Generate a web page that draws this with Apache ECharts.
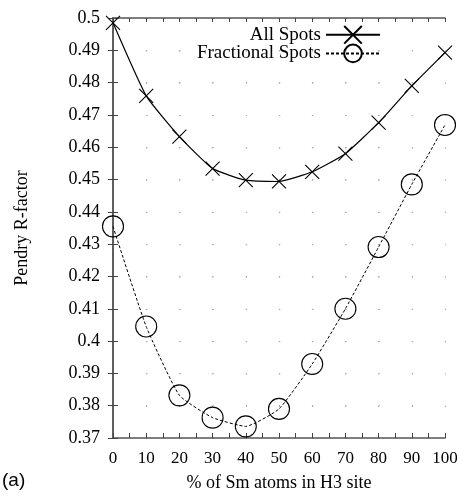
<!DOCTYPE html>
<html><head><meta charset="utf-8">
<script src="https://cdn.jsdelivr.net/npm/echarts@6/dist/echarts.min.js"></script>
<style>html,body{margin:0;padding:0;background:#fff}#c{width:461px;height:498px}</style>
</head><body><div id="c"></div>
<script>
const xValues = [0, 10, 20, 30, 40, 50, 60, 70, 80, 90, 100];
const allSpots = [0.4985, 0.4759, 0.4633, 0.4534, 0.4498, 0.4494, 0.4524, 0.4580, 0.4676, 0.4790, 0.4893];
const fractionalSpots = [0.4355, 0.4045, 0.3832, 0.3763, 0.3736, 0.3790, 0.3929, 0.4100, 0.4291, 0.4485, 0.4669];
const xAxisTitle = '% of Sm atoms in H3 site';
const yAxisTitle = 'Pendry R-factor';
const seriesNames = ['All Spots', 'Fractional Spots'];

const gridLeft = 113, gridRight = 16, gridTop = 18, gridBottom = 60;
const W = 461, H = 498;
const plotW = W - gridLeft - gridRight, plotH = H - gridTop - gridBottom;
const xStep = plotW / 10, yStep = plotH / 13;
const serif = 'Liberation Serif, Times New Roman, serif';
const frameColor = '#555';

const chart = echarts.init(document.getElementById('c'), null, {renderer: 'canvas'});
const baseX = {type: 'value', min: 0, max: 100, interval: 10};
const baseY = {type: 'value', min: 0.37, max: 0.5, interval: 0.01};
const tickStyle = {color: '#444', width: 1};
chart.setOption({
  animation: false,
  backgroundColor: '#fff',
  grid: {left: gridLeft, right: gridRight, top: gridTop, bottom: gridBottom, show: false},
  legend: {
    data: seriesNames, orient: 'vertical', right: 75, top: 20, align: 'right',
    itemWidth: 54, itemHeight: 22, itemGap: -1, selectedMode: false,
    textStyle: {fontFamily: serif, fontSize: 19, color: '#000'}
  },
  xAxis: [
    Object.assign({}, baseX, {
      position: 'bottom',
      name: xAxisTitle, nameLocation: 'middle', nameGap: 36,
      nameTextStyle: {fontFamily: serif, fontSize: 18, color: '#000'},
      axisLine: {show: true, lineStyle: {color: frameColor, width: 1.5}},
      axisTick: {show: true, inside: true, length: 5, lineStyle: tickStyle},
      minorTick: {show: true, splitNumber: 2, length: 5, lineStyle: tickStyle},
      axisLabel: {fontFamily: serif, fontSize: 17, color: '#000', margin: 12},
      splitLine: {show: true, lineStyle: {color: '#aaa', width: 1.2, type: [1.2, yStep - 1.2]}}
    }),
    Object.assign({}, baseX, {
      position: 'top',
      axisLine: {show: true, lineStyle: {color: frameColor, width: 1.5}},
      axisTick: {show: true, inside: true, length: 4, lineStyle: tickStyle},
      minorTick: {show: true, splitNumber: 2, length: 4, lineStyle: tickStyle},
      axisLabel: {show: false}, splitLine: {show: false}
    })
  ],
  yAxis: [
    Object.assign({}, baseY, {
      position: 'left',
      name: yAxisTitle, nameLocation: 'middle', nameGap: 82,
      nameTextStyle: {fontFamily: serif, fontSize: 18, color: '#000'},
      axisLine: {show: true, lineStyle: {color: frameColor, width: 1.5}},
      axisTick: {show: true, inside: true, length: 5, lineStyle: tickStyle},
      axisLabel: {fontFamily: serif, fontSize: 18, color: '#000', margin: 13,
        formatter: v => String(Math.round(v * 100) / 100)},
      splitLine: {show: true, lineStyle: {color: '#aaa', width: 1.2, type: [1.2, xStep - 1.2]}}
    }),
    Object.assign({}, baseY, {
      position: 'right',
      axisLine: {show: true, lineStyle: {color: frameColor, width: 1.5}},
      axisTick: {show: true, inside: true, length: 5, lineStyle: tickStyle},
      axisLabel: {show: false}, splitLine: {show: false}
    })
  ],
  series: [
    {
      name: seriesNames[0], type: 'line', xAxisIndex: 0, yAxisIndex: 0,
      data: xValues.map((x, i) => [x, allSpots[i]]),
      smooth: 0.15,
      symbol: 'path://M0,0L10,10M10,0L0,10', symbolSize: 14,
      itemStyle: {color: '#000', borderColor: '#000', borderWidth: 1.1},
      lineStyle: {color: '#000', width: 1.2, type: 'solid'},
      emphasis: {disabled: true}, z: 3
    },
    {
      name: seriesNames[1], type: 'line', xAxisIndex: 0, yAxisIndex: 0,
      data: xValues.map((x, i) => [x, fractionalSpots[i]]),
      smooth: 0.15,
      symbol: 'circle', symbolSize: 21,
      itemStyle: {color: 'rgba(255,255,255,0)', borderColor: '#000', borderWidth: 1.1},
      lineStyle: {color: '#000', width: 1, type: [3, 2]},
      emphasis: {disabled: true}, z: 3
    }
  ],
  graphic: [{
    type: 'text', left: 2, top: 471,
    style: {text: '(a)', font: '19px Liberation Sans, Arial, sans-serif', fill: '#000'}
  }]
});
</script></body></html>
